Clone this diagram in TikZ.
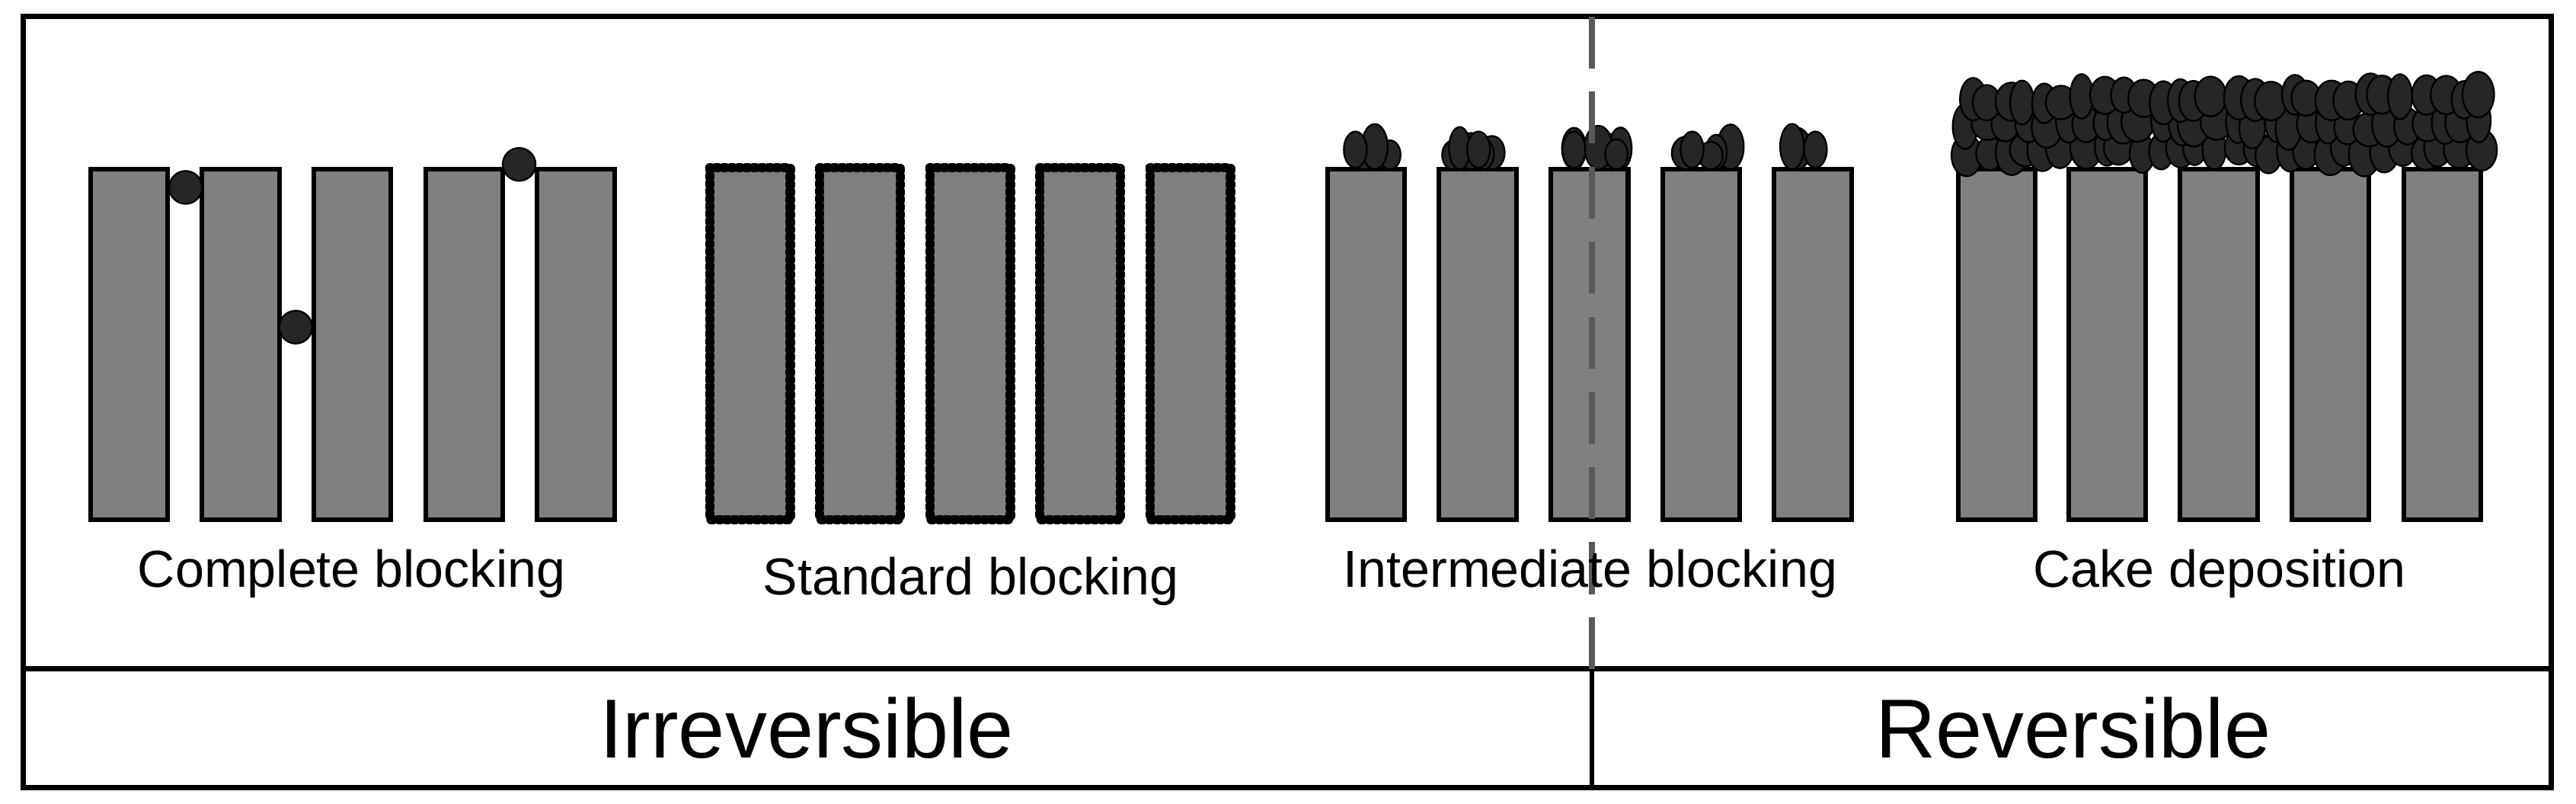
\documentclass[tikz,border=0pt]{standalone}
\usepackage{fontspec}
\setmainfont{Liberation Sans}
\usetikzlibrary{positioning}
\definecolor{poregray}{RGB}{128,128,128}
\definecolor{foulant}{RGB}{38,38,38}

\begin{document}
\begin{tikzpicture}[x=0.1mm,y=-0.1mm,
    pore/.style={fill=poregray,draw=black,line width=0.8pt},
    coated/.style={fill=poregray,draw=black,line width=1.6pt,dash pattern=on 0.4pt off 0.9pt,line cap=round},
    particle/.style={fill=foulant,draw=black,line width=0.3pt},
    label/.style={font=\fontsize{9}{10}\selectfont,anchor=base},
    mode/.style={font=\fontsize{14.5}{16}\selectfont}]
    \useasboundingbox (0,0) rectangle (1568,489);
    \pgfmathsetseed{7}

    % frame
    \draw[line width=0.9pt] (14,10) rectangle (1553,479);
    \draw[line width=0.9pt] (14,407) -- (1553,407);
    \draw[line width=0.9pt] (969,407) -- (969,479);

    % complete blocking
    \foreach \x in {55,123,191,259,327}
        \draw[pore] (\x,103) rectangle ++(47,213);
    \fill[particle] (113,114) circle (10);
    \fill[particle] (180,199) circle (10);
    \fill[particle] (316,100) circle (10);

    % standard blocking
    \foreach \x in {432,499,566,633,700}
        \draw[pore,draw=none] (\x,102) rectangle ++(49,214);
    \foreach \x in {432,499,566,633,700}
        \draw[coated,fill=none] (\x,102) rectangle ++(49,214);

    % intermediate blocking
    \foreach \x in {808,876,944,1012,1080}
        \draw[pore] (\x,103) rectangle ++(47,213);
    \foreach \x/\n in {808/3,876/5,944/5,1012/4,1080/2}
        \foreach \i in {1,...,\n} {
            \pgfmathsetmacro{\px}{\x+4+rnd*39}
            \pgfmathsetmacro{\ry}{8+rnd*6}
            \draw[particle] (\px,103-\ry) ellipse [x radius=6+rnd*3, y radius=\ry];
        }
    \foreach \px in {825,900,958,1030,1105}
        \draw[particle] (\px,91) ellipse [x radius=7, y radius=11];

    % cake deposition
    \foreach \x in {1192,1259,1327,1395,1463}
        \draw[pore] (\x,103) rectangle ++(47,213);
    \foreach \row in {92,76,60}
        \foreach \i in {0,...,27} {
            \pgfmathsetmacro{\px}{1196+\i*11.5+rnd*6}
            \pgfmathsetmacro{\py}{\row+rnd*6-3}
            \draw[particle] (\px,\py) ellipse [x radius=7+rnd*3, y radius=10+rnd*4];
        }

    % divider between irreversible and reversible
    \draw[gray!70!black,line width=1pt,dash pattern=on 9pt off 4pt] (969,10) -- (969,407);

    % labels
    \node[label] (cb) at (214,357) {Complete blocking};
    \node[label] (sb) at (591,362) {Standard blocking};
    \node[label] (ib) at (968,357) {Intermediate blocking};
    \node[label] (cd) at (1351,357) {Cake deposition};
    \node[mode] (irr) at (491,443) {Irreversible};
    \node[mode] (rev) at (1262,443) {Reversible};
\end{tikzpicture}
\end{document}
